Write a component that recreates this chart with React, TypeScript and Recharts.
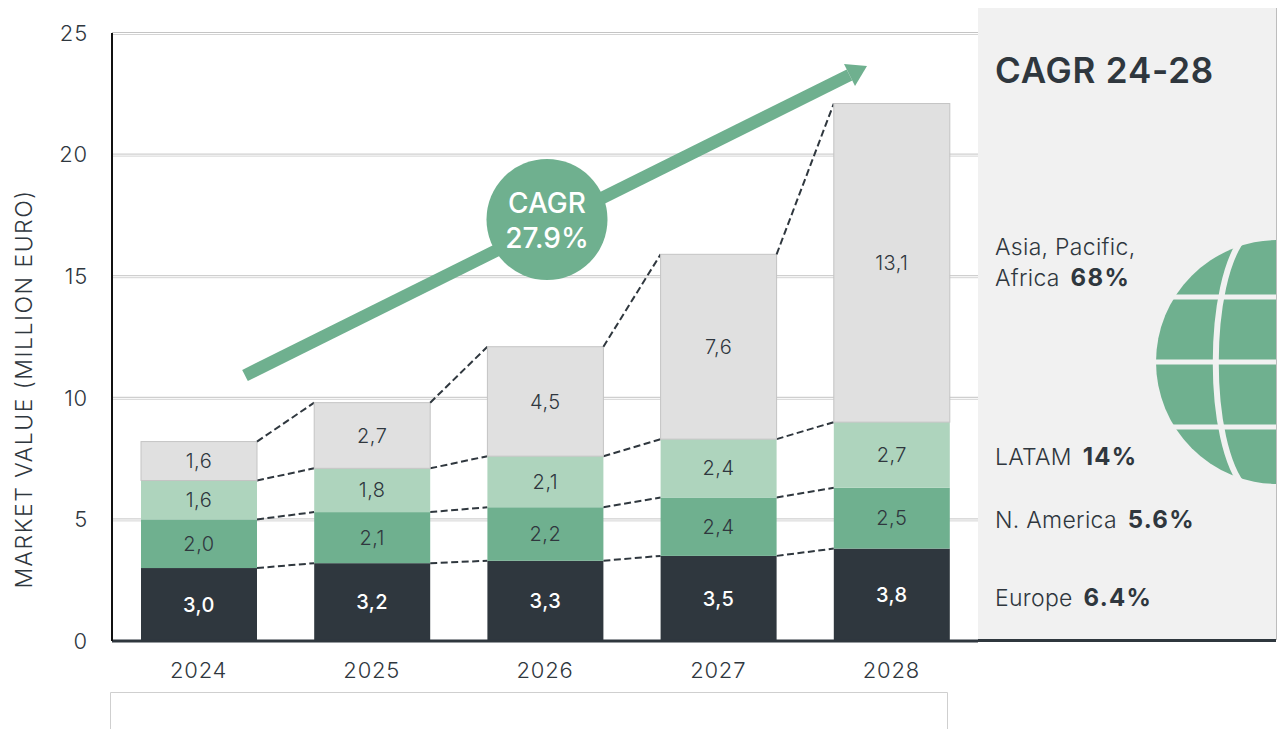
import { ComposedChart, Bar, XAxis, YAxis, CartesianGrid, LabelList } from 'recharts';

const years = ['2024', '2025', '2026', '2027', '2028'];
const europe = [3.0, 3.2, 3.3, 3.5, 3.8];
const northAmerica = [2.0, 2.1, 2.2, 2.4, 2.5];
const latam = [1.6, 1.8, 2.1, 2.4, 2.7];
const asiaPacificAfrica = [1.6, 2.7, 4.5, 7.6, 13.1];
const yTicks = [0, 5, 10, 15, 20, 25];

const FONT = 'Inter, "Noto Sans", sans-serif';
const DARK = '#2f373e';
const GREEN = '#6fb08f';
const LIGHT_GREEN = '#aed4bd';
const GREY = '#e0e0e0';
const PANEL = '#f1f1f1';

const data = years.map((year, i) => ({
  year,
  europe: europe[i],
  northAmerica: northAmerica[i],
  latam: latam[i],
  asia: asiaPacificAfrica[i],
}));

const stacks = [europe, northAmerica, latam, asiaPacificAfrica];
const stackTop = (level: number, i: number) =>
  stacks.slice(0, level + 1).reduce((sum, s) => sum + s[i], 0);

// draws the segment plus the dashed link to the same level of the next bar
const segmentShape = (level: number, fill: string, edge?: string) => (props: any) => {
  const { x, y, width, height, index } = props;
  const value = stacks[level][index];
  const perUnit = height / value;
  const hasNext = index < years.length - 1;
  const nextY = hasNext ? y - (stackTop(level, index + 1) - stackTop(level, index)) * perUnit : y;
  const bandStep = 173.2;
  return (
    <g>
      <rect x={x} y={y} width={width} height={height} fill={fill} stroke={edge} strokeWidth={edge ? 1 : 0} />
      {hasNext && (
        <line
          x1={x + width}
          y1={y}
          x2={x + bandStep}
          y2={nextY}
          stroke={DARK}
          strokeWidth={2}
          strokeDasharray="7 3.5"
        />
      )}
    </g>
  );
};

const comma = (v: any) => Number(v).toFixed(1).replace('.', ',');

const labelStyle = { fontFamily: FONT, fontSize: 20, fontWeight: 300, letterSpacing: 0.5, fill: '#2f373e' };
const tickStyle = { fontFamily: FONT, fontSize: 22, fontWeight: 300, letterSpacing: 0.8, fill: DARK };

const doubleLine = (props: any) => {
  const { x1, x2, y1 } = props;
  if (y1 > 630) return <g />;
  return (
    <g>
      <line x1={x1} x2={x2} y1={y1 - 0.5} y2={y1 - 0.5} stroke="#c4c4c4" strokeWidth={1} />
      <line x1={x1} x2={x2} y1={y1 + 1.5} y2={y1 + 1.5} stroke="#d4d4d4" strokeWidth={1} />
    </g>
  );
};

function Decorations() {
  const regionStyle = { fontFamily: FONT, fontSize: 23, fontWeight: 300, letterSpacing: 0.3, fill: DARK };
  const bold = { fontWeight: 700, fontSize: 24, letterSpacing: 1.3, fill: DARK, dx: 4 };
  return (
    <g>
      <polygon points="242.2,369.9 247.8,381.1 852.3,80.6 846.7,69.4" fill={GREEN} />
      <polygon points="867,66 844,64 855,86" fill={GREEN} />
      <circle cx={547} cy={219.5} r={60.5} fill={GREEN} />
      <text x={547} y={213} textAnchor="middle" fontFamily={FONT} fontSize={28} fontWeight={500} fill="#fff">CAGR</text>
      <text x={547} y={248} textAnchor="middle" fontFamily={FONT} fontSize={28} fontWeight={500} fill="#fff">27.9%</text>

      <rect x={978} y={8} width={298} height={632} fill={PANEL} />
      <line x1={1276.5} x2={1276.5} y1={8} y2={640} stroke="#bdbdbd" strokeWidth={1} />
      <clipPath id="globe-clip">
        <rect x={978} y={8} width={298} height={632} />
      </clipPath>
      <g clipPath="url(#globe-clip)">
        <circle cx={1278} cy={362} r={122} fill={GREEN} />
        <line x1={1150} x2={1280} y1={297} y2={297} stroke={PANEL} strokeWidth={5} />
        <line x1={1150} x2={1280} y1={362} y2={362} stroke={PANEL} strokeWidth={5} />
        <line x1={1150} x2={1280} y1={427} y2={427} stroke={PANEL} strokeWidth={5} />
        <path d="M1245,236 C1206,280 1206,445 1245,488" fill="none" stroke={PANEL} strokeWidth={6} />
      </g>
      <line x1={978} x2={1276} y1={640.5} y2={640.5} stroke={DARK} strokeWidth={3} />

      <text x={995} y={83} fontFamily={FONT} fontSize={35} fontWeight={600} letterSpacing={0.8} fill={DARK}>CAGR 24-28</text>
      <text x={995} y={255} {...regionStyle}>Asia, Pacific,</text>
      <text x={995} y={286} {...regionStyle}>Africa <tspan {...bold}>68%</tspan></text>
      <text x={995} y={465} {...regionStyle}>LATAM <tspan {...bold}>14%</tspan></text>
      <text x={995} y={528} {...regionStyle}>N. America <tspan {...bold}>5.6%</tspan></text>
      <text x={995} y={606} {...regionStyle}>Europe <tspan {...bold}>6.4%</tspan></text>

      <text
        transform="translate(32,389) rotate(-90)"
        textAnchor="middle"
        fontFamily={FONT}
        fontSize={23}
        fontWeight={300}
        letterSpacing={1.5}
        fill={DARK}
      >
        MARKET VALUE (MILLION EURO)
      </text>

      <path d="M110.5,729 V692.5 H947.5 V729" fill="none" stroke="#cfcfcf" strokeWidth={1} />
    </g>
  );
}

export default function App() {
  return (
    <div style={{ position: 'absolute', left: 0, top: 0, width: 1278, height: 729, background: '#fff' }}>
      <ComposedChart
        width={1278}
        height={729}
        data={data}
        barSize={116}
        margin={{ top: 33, right: 300, bottom: 0, left: 0 }}
      >
        <CartesianGrid vertical={false} horizontal={doubleLine} />
        <XAxis
          dataKey="year"
          height={88}
          tickLine={false}
          tickMargin={15}
          axisLine={{ stroke: DARK, strokeWidth: 3 }}
          tick={tickStyle}
        />
        <YAxis
          width={112}
          domain={[0, 25]}
          ticks={yTicks}
          interval={0}
          tickLine={false}
          tickMargin={18}
          axisLine={{ stroke: '#111', strokeWidth: 2 }}
          tick={tickStyle}
        />
        <Bar dataKey="europe" stackId="a" isAnimationActive={false} shape={segmentShape(0, DARK)}>
          <LabelList dataKey="europe" position="center" formatter={comma} style={{ ...labelStyle, fontWeight: 500, fill: '#fff' }} />
        </Bar>
        <Bar dataKey="northAmerica" stackId="a" isAnimationActive={false} shape={segmentShape(1, GREEN)}>
          <LabelList dataKey="northAmerica" position="center" formatter={comma} style={labelStyle} />
        </Bar>
        <Bar dataKey="latam" stackId="a" isAnimationActive={false} shape={segmentShape(2, LIGHT_GREEN)}>
          <LabelList dataKey="latam" position="center" formatter={comma} style={labelStyle} />
        </Bar>
        <Bar dataKey="asia" stackId="a" isAnimationActive={false} shape={segmentShape(3, GREY, '#c4c4c4')}>
          <LabelList dataKey="asia" position="center" formatter={comma} style={labelStyle} />
        </Bar>
        <Decorations />
      </ComposedChart>
    </div>
  );
}
